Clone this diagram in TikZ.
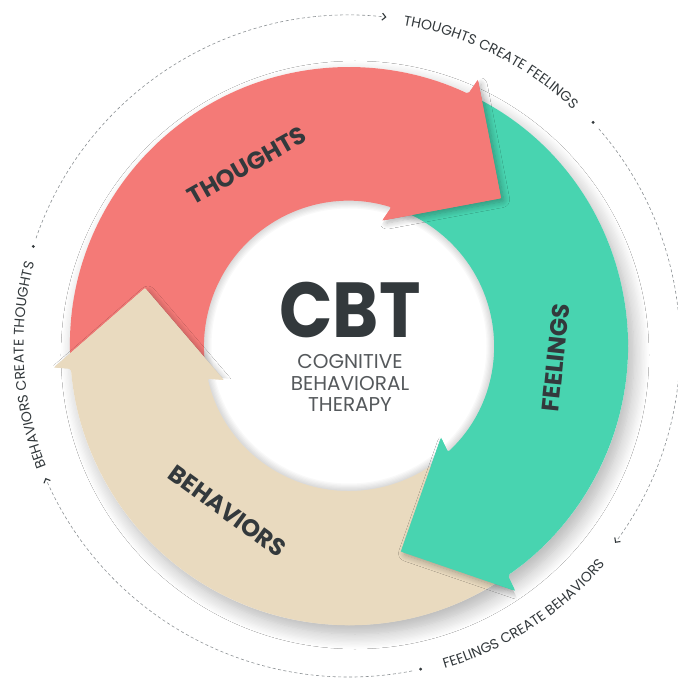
\documentclass[tikz,border=0pt]{standalone}
\usepackage{fontspec}
\setmainfont{Poppins}
\usetikzlibrary{arrows.meta, decorations.text, shadows.blur}

\definecolor{thoughtred}{HTML}{F47A77}
\definecolor{feelteal}{HTML}{48D4B0}
\definecolor{behavbeige}{HTML}{E9DABF}
\definecolor{inkgray}{HTML}{33393C}
\definecolor{subgray}{HTML}{55595C}
\definecolor{dashgray}{HTML}{8C9194}

\tikzset{
  ringlabel/.style={font=\bfseries\fontsize{24}{24}\selectfont, text=inkgray, inner sep=0pt},
  cyclepath/.style={dashgray, line width=0.6pt, dash pattern=on 3pt off 2.5pt,
    -{Straight Barb[length=3.5pt, width=7pt, color=inkgray, line width=1.1pt]}},
  headshadow/.style={blur shadow={shadow xshift=3pt, shadow yshift=-3pt,
    shadow blur radius=6pt, shadow blur steps=8, shadow opacity=30}},
  cyclelabel/.style={decorate, decoration={text along path, text align=center,
    text={|\fontsize{14}{14}\selectfont\color{inkgray}|#1}}},
}

\begin{document}
\begin{tikzpicture}[x=1pt, y=1pt]
  \fill[white] (-349,-333) rectangle (328,346);
  \useasboundingbox (-349,-333) rectangle (328,346);

  % ring shadow and the rim of the hole
  \fill[white, blur shadow={shadow xshift=6pt, shadow yshift=-9pt,
    shadow blur radius=15pt, shadow blur steps=12, shadow opacity=30}] (0,0) circle (279);
  \foreach \k in {1,...,6}
    \draw[black, opacity=0.025, line width={\k*2.5pt}] (0,0) circle (145);

  % the three arrows, base of each head at \b
  \foreach \b/\c in {67.5/thoughtred, -52.5/feelteal, 187.5/behavbeige}{
    \fill[\c, rotate=\b, rounded corners=2pt]
      (115.6:279) arc[start angle=115.6, end angle=-2.82, radius=279]
      -- (295.2,-17.2) -- (194.7,-83.9) -- (128.8,17.2)
      -- (5.52:145) arc[start angle=5.52, end angle=121.3, radius=145] -- cycle;
  }
  % heads again, on top of the next tail
  \foreach \b/\c in {67.5/thoughtred, -52.5/feelteal, 187.5/behavbeige}{
    \begin{scope}[rotate=\b]
      \clip (-180.1,79.3) -- (603.5,-82.3) -- (522.7,-474.1) -- (-260.9,-312.5) -- cycle;
      \fill[\c, headshadow, rounded corners=2pt]
        (295.2,-17.2) -- (194.7,-83.9) -- (128.8,17.2) -- cycle;
    \end{scope}
    \fill[\c, rotate=\b] (295.2,-17.2) -- (194.7,-83.9) -- (128.8,17.2) -- cycle;
  }

  \node[ringlabel, rotate=29.5] (thoughts) at (119.5:207) {THOUGHTS};
  \node[ringlabel, rotate=84] (feelings) at (-3.2:207) {FEELINGS};
  \node[ringlabel, rotate=-36] (behaviors) at (233.7:205) {BEHAVIORS};

  \node[font=\bfseries\fontsize{78}{78}\selectfont, text=inkgray, inner sep=0pt]
    (cbt) at (1,36) {\scalebox{0.9}[1]{CBT}};
  \node[font=\fontsize{20}{21.5}\selectfont, text=subgray, align=center, inner sep=0pt]
    (therapy) at (1,-37) {COGNITIVE\\BEHAVIORAL\\THERAPY};

  % outer cycle
  \foreach \d in {162.5, 42.5, -77.5}{
    \fill[inkgray] (\d:331) circle (1.6);
    \draw[cyclepath] (\d-1.5:331) arc[start angle=\d-1.5, end angle=\d-79, radius=331];
  }
  \path[cyclelabel={THOUGHTS CREATE FEELINGS}]
    (93.5:325.5) arc[start angle=93.5, end angle=33.5, radius=325.5];
  \path[cyclelabel={FEELINGS CREATE BEHAVIORS}]
    (-87:336.5) arc[start angle=-87, end angle=-27, radius=336.5];
  \path[cyclelabel={BEHAVIORS CREATE THOUGHTS}]
    (213.5:325.5) arc[start angle=213.5, end angle=153.5, radius=325.5];
\end{tikzpicture}
\end{document}
